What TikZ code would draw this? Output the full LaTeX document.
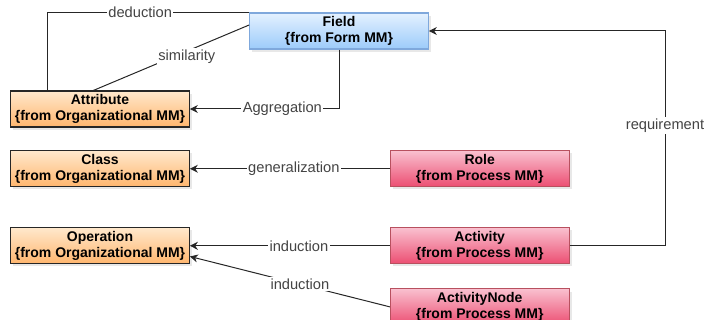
\documentclass[tikz,border=0pt]{standalone}
\usepackage{fontspec}
\setmainfont{Liberation Sans}
\usepackage{xcolor}
\usetikzlibrary{arrows.meta, positioning, shadows}

\definecolor{fieldtop}{HTML}{E4F1FF}
\definecolor{fieldbot}{HTML}{9CCBFA}
\definecolor{fieldline}{HTML}{7FA8DC}
\definecolor{orgtop}{HTML}{FFE8CC}
\definecolor{orgbot}{HTML}{FFB66E}
\definecolor{proctop}{HTML}{F9C0CF}
\definecolor{procbot}{HTML}{EC4E72}
\definecolor{procline}{HTML}{B8505F}
\definecolor{lblgray}{HTML}{444444}

\begin{document}
\begin{tikzpicture}[
  x=0.75pt, y=-0.75pt,
  box/.style={draw, minimum height=27pt, minimum width=134pt, inner xsep=2pt, inner ysep=1pt, align=center,
    font=\fontsize{10.5}{12}\selectfont\bfseries, line width=0.8pt,
    drop shadow={shadow xshift=2pt, shadow yshift=-2pt, fill=black!18}},
  fieldbox/.style={box, draw=fieldline, top color=fieldtop, bottom color=fieldbot},
  orgbox/.style={box, draw=black!85, top color=orgtop, bottom color=orgbot},
  procbox/.style={box, draw=procline, top color=proctop, bottom color=procbot},
  conn/.style={draw=black!85, line width=0.75pt},
  arr/.style={conn, -{Stealth[length=6pt, width=6pt]}},
  lbl/.style={fill=white, inner sep=1pt, text=lblgray, font=\fontsize{11}{13}\selectfont}
]
\clip (0,0) rectangle (704,320);

\node[fieldbox] (field) at (339,31) {Field\\\{from Form MM\}};
\node[orgbox] (attr) at (100,109) {Attribute\\\{from Organizational MM\}};
\node[orgbox, below=17pt of attr] (class) {Class\\\{from Organizational MM\}};
\node[orgbox, below=30pt of class] (oper) {Operation\\\{from Organizational MM\}};
\node[procbox, right=150pt of class] (role) {Role\\\{from Process MM\}};
\node[procbox, below=30pt of role] (act) {Activity\\\{from Process MM\}};
\node[procbox, below=18pt of act] (actnode) {ActivityNode\\\{from Process MM\}};
\coordinate (rq) at (665,31);

\draw[conn] (field.north west) -| ([xshift=28pt]attr.north west) node[lbl, pos=0.27] {deduction};
\draw[conn] ([yshift=4.5pt]field.west) -- ([xshift=-5pt]attr.north) node[lbl, pos=0.4, yshift=-4pt] {similarity};
\draw[arr] (field.south) |- (attr.east) node[lbl, pos=0.69] {Aggregation};
\draw[arr] (role) -- (class) node[lbl, pos=0.48] {generalization};
\draw[arr] (act) -- (oper) node[lbl, pos=0.455] {induction};
\draw[arr] (actnode.west) -- ([yshift=-8pt]oper.east) node[lbl, pos=0.45] {induction};
\draw[arr] (act.east) -| (rq) node[lbl, pos=0.78] {requirement} -- (field.east);
\end{tikzpicture}
\end{document}
